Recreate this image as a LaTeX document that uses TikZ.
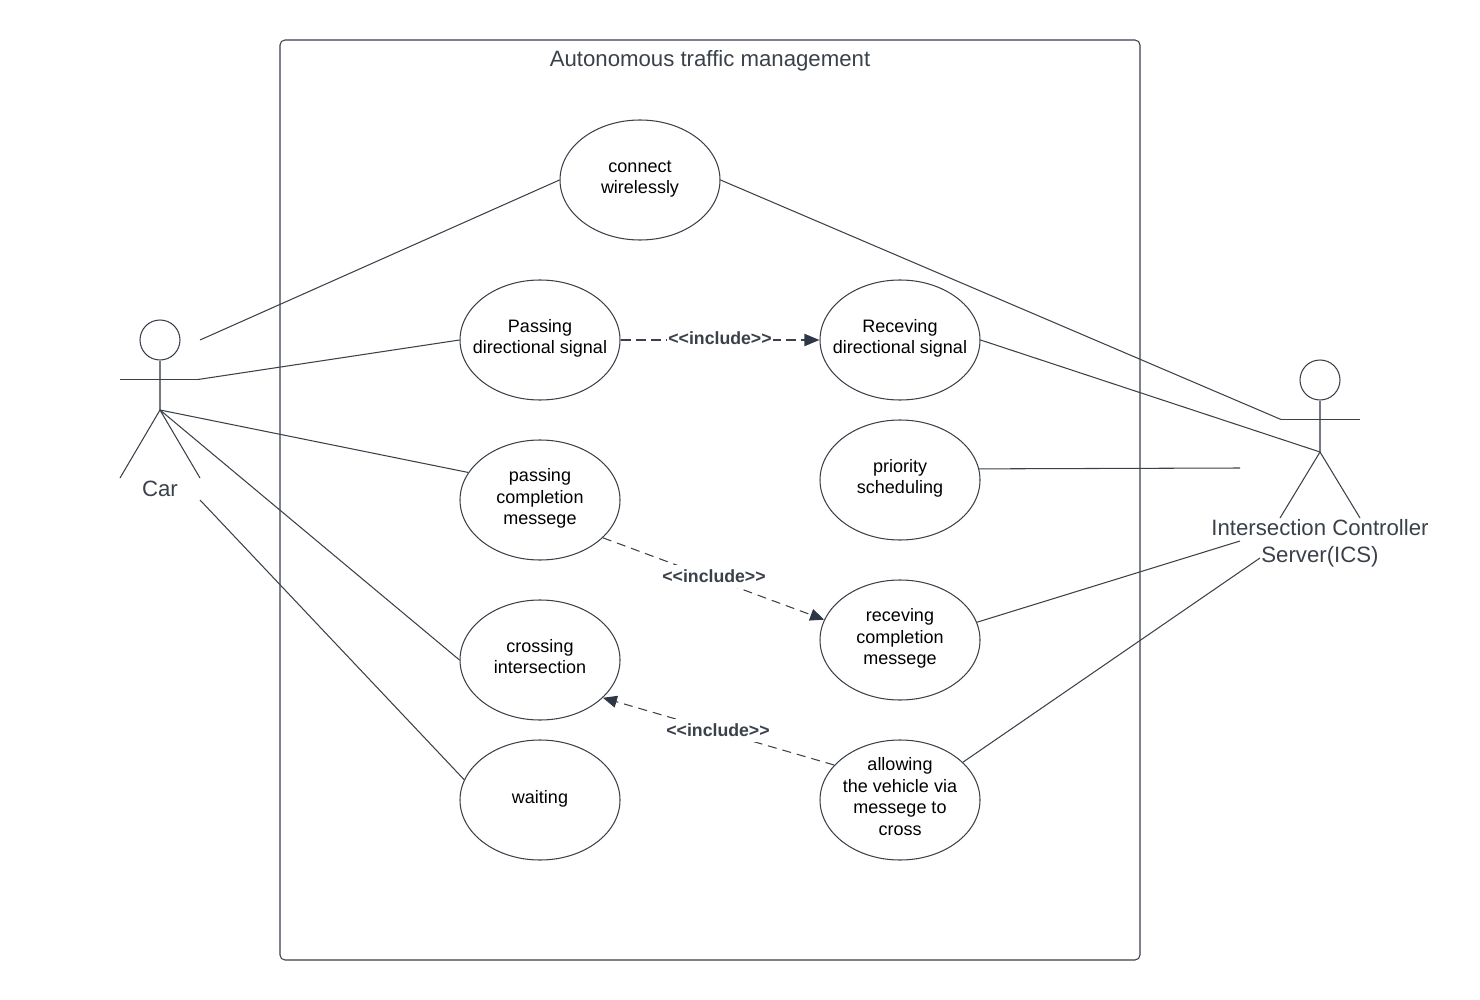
\documentclass[tikz,border=0pt]{standalone}
\usepackage{fontspec}
\setmainfont{Liberation Sans}
\usetikzlibrary{shapes.geometric,arrows.meta}
\definecolor{ink}{HTML}{3A414A}
\definecolor{arrowink}{HTML}{2F3746}
\newcommand{\uctext}[1]{\makebox[0pt]{\smash{\raisebox{-3pt}{\begin{tabular}{@{}c@{}}#1\end{tabular}}}}}
\newcommand{\incltext}{{<}{<}include{>}{>}}
\tikzset{
  usecase/.style={draw=ink,line width=1.05pt,ellipse,minimum width=160pt,minimum height=120pt,inner sep=0pt,text=black,font=\fontsize{18}{21.6}\selectfont},
  assoc/.style={draw=ink,line width=1.05pt},
  actorline/.style={draw=ink,line width=1.05pt},
  actorbody/.style={draw=ink!70,line width=1.05pt},
  actorhead/.style={draw=ink,line width=1.05pt,circle,minimum size=40pt,inner sep=0pt},
  actorname/.style={text=ink,align=center,font=\fontsize{22.2}{27}\selectfont},
  incl/.style={draw=ink,line width=1.05pt,dash pattern=on 9pt off 6pt,-{Triangle[length=14pt,width=12pt,color=arrowink]}},
  inclheavy/.style={incl,line width=1.8pt,dash pattern=on 10pt off 5pt,-{Triangle[length=15pt,width=12pt,color=arrowink]}},
  incllabel/.style={fill=white,inner xsep=1pt,inner ysep=0pt,minimum height=23pt,text=ink,font=\fontsize{17.7}{20}\selectfont\bfseries}
}
\begin{document}
\begin{tikzpicture}[x=1pt,y=-1pt]
\useasboundingbox (0,0) rectangle (1480,1000);
\draw[assoc,rounded corners=5pt] (280,40) rectangle (1140,960);
\node[text=ink,font=\fontsize{22.2}{26}\selectfont] (title) at (710,61) {Autonomous traffic management};
% use cases
\node[usecase] (connect) at (640,180) {\uctext{connect\\wirelessly}};
\node[usecase] (passdir) at (540,340) {\uctext{Passing\\directional signal}};
\node[usecase] (recvdir) at (900,340) {\uctext{Receving\\directional signal}};
\node[usecase] (priority) at (900,480) {\uctext{priority\\scheduling}};
\node[usecase] (passcomp) at (540,500) {\uctext{passing\\completion\\messege}};
\node[usecase] (recvcomp) at (900,640) {\uctext{receving\\completion\\messege}};
\node[usecase] (crossing) at (540,660) {\uctext{crossing\\intersection}};
\node[usecase] (waiting) at (540,800) {\uctext{waiting}};
\node[usecase] (allowing) at (900,800) {\uctext{allowing\\the vehicle via\\messege to\\cross}};
% Car actor
\node[actorhead] (carhead) at (160,340) {};
\coordinate (carhip) at (160,410);
\coordinate (carlarm) at (120,379.5);
\coordinate (carrarm) at (198,379.5);
\coordinate (carlfoot) at (120,478);
\coordinate (carrfoot) at (200,478);
\draw[actorbody] (carhead.south) -- (carhip);
\draw[actorline] (carlarm) -- (carrarm);
\draw[actorline] (carlfoot) -- (carhip) -- (carrfoot);
\node[actorname] (car) at (160,488.5) {Car};
% ICS actor
\node[actorhead] (icshead) at (1320,380) {};
\coordinate (icship) at (1320,452);
\coordinate (icslarm) at (1281,419.5);
\coordinate (icsrarm) at (1360,419.5);
\coordinate (icslfoot) at (1280,518);
\coordinate (icsrfoot) at (1360,518);
\draw[actorbody] (icshead.south) -- (icship);
\draw[actorline] (icslarm) -- (icsrarm);
\draw[actorline] (icslfoot) -- (icship) -- (icsrfoot);
\node[actorname] (ics) at (1320,543.5) {Intersection Controller\\Server(ICS)};
% free ends
\coordinate (carA) at (200,340);
\coordinate (carB) at (200,500);
\coordinate (icsA) at (1240,468);
\coordinate (icsB) at (1240,541);
\coordinate (icsC) at (1260,558);
% associations
\draw[assoc] (carA) -- (connect.west);
\draw[assoc] (carrarm) -- (passdir.west);
\draw[assoc] (carhip) -- (passcomp.159);
\draw[assoc] (carhip) -- (crossing.west);
\draw[assoc] (carB) -- (waiting.165);
\draw[assoc] (connect.east) -- (icslarm);
\draw[assoc] (recvdir.east) -- (icship);
\draw[assoc] (priority.8.85) -- (icsA);
\draw[assoc] (recvcomp.13) -- (icsB);
\draw[assoc] (allowing.31.5) -- (icsC);
% includes
\draw[inclheavy] (passdir.east) -- (recvdir.west);
\draw[incl] (passcomp.-31) -- (recvcomp.165);
\draw[incl] (allowing.152) -- (crossing.-31.5);
\node[incllabel] (l2) at (714,576) {\incltext};
\node[incllabel] (l3) at (718,730) {\incltext};
\node[incllabel,minimum height=0pt,inner ysep=1pt] (l1) at (720,338) {\incltext};
\end{tikzpicture}
\end{document}
